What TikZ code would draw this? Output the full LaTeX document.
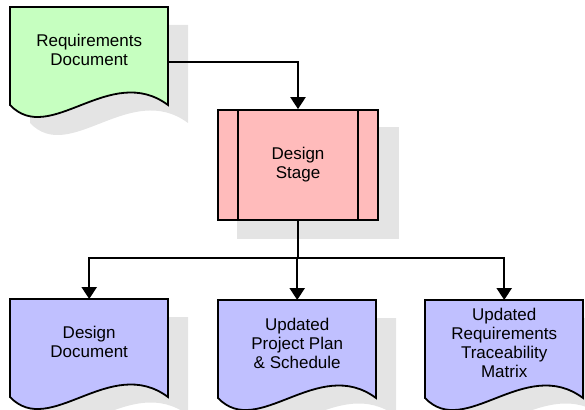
\documentclass[tikz,border=0pt]{standalone}
\usepackage{fontspec}
\setmainfont{Liberation Sans}
\usetikzlibrary{arrows.meta,calc}

\definecolor{reqgreen}{RGB}{198,255,192}
\definecolor{stagepink}{RGB}{255,187,187}
\definecolor{outblue}{RGB}{192,192,255}
\definecolor{shadowgray}{RGB}{228,228,228}

\pgfdeclarelayer{background}
\pgfsetlayers{background,main}

\tikzset{
  outline/.style={draw=black, line width=1.8pt},
  docnode/.style={anchor=north west, minimum width=158pt, minimum height=86pt,
    align=center, font=\fontsize{17}{19}\selectfont},
  conn/.style={line width=2.3pt, -{Triangle[length=12pt,width=15pt]}}
}

% document sheet with its shadow, hung from the node's top left corner
\newcommand\docsheet[2]{%
  \begin{scope}[shift={(#1.north west)}]
    \fill[shadowgray] (20,18) -- (178,18) -- (178,116)
      .. controls (120,73) and (60,158) .. (20,116) -- cycle;
    \filldraw[fill=#2, outline] (0,0) -- (158,0) -- (158,98)
      .. controls (100,55) and (40,140) .. (0,98) -- cycle;
  \end{scope}}

\begin{document}
\begin{tikzpicture}[x=1pt, y=-1pt]
\useasboundingbox (0,0) rectangle (585,409);

\node[docnode] (reqdoc) at (10,7) {Requirements\\Document};

\node[outline, fill=stagepink, minimum width=160pt, minimum height=110pt,
  align=center, font=\fontsize{17}{19}\selectfont] (stage) at (298,165) {Design\\Stage};
\draw[outline] ($(stage.north west)+(21,0)$) -- ($(stage.south west)+(21,0)$);
\draw[outline] ($(stage.north east)+(-21,0)$) -- ($(stage.south east)+(-21,0)$);

\node[docnode] (ddoc) at (10,299) {Design\\Document};
\node[docnode] (plan) at (218,300) {Updated\\Project Plan\\\& Schedule};
\node[docnode] (trace) at (425,300) {Updated\\Requirements\\Traceability\\Matrix};

\begin{pgfonlayer}{background}
  \docsheet{reqdoc}{reqgreen}
  \fill[shadowgray] ($(stage.north west)+(20,18)$) rectangle ($(stage.south east)+(20,18)$);
  \foreach \n in {ddoc,plan,trace}
    {\docsheet{\n}{outblue}}
\end{pgfonlayer}

\draw[conn] ([yshift=-12pt]reqdoc.east) -| (stage.north);
\draw[line width=2.3pt] (stage.south) -- ++(0,37) coordinate (split);
\foreach \n in {ddoc,plan,trace}
  \draw[conn] (split) -| (\n.north);

\end{tikzpicture}
\end{document}
